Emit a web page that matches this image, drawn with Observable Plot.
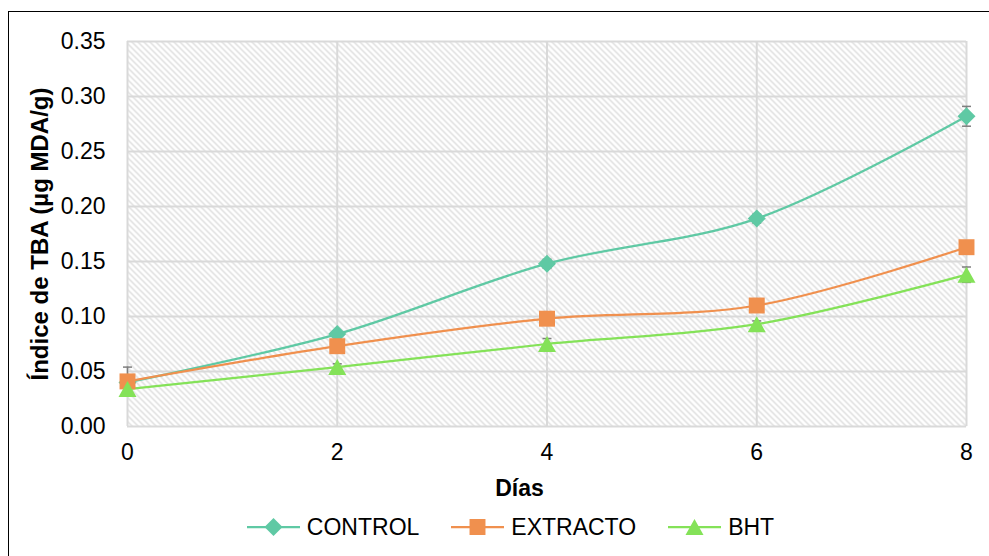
<!DOCTYPE html>
<html lang="es">
<head>
<meta charset="utf-8">
<script src="https://cdn.jsdelivr.net/npm/d3@7"></script>
<script src="https://cdn.jsdelivr.net/npm/@observablehq/plot@0.6"></script>
<style>
  html, body { margin: 0; padding: 0; background: #fff; }
  body { width: 989px; height: 556px; overflow: hidden; position: relative; font-family: "Liberation Sans", Arial, sans-serif; }
  #marco { position: absolute; left: 8px; top: 11px; width: 1200px; height: 900px; border: 1.5px solid #000; pointer-events: none; }
  #grafico { position: absolute; left: 0; top: 0; width: 989px; }
  .titulo-x { height: 36px; line-height: 36px; padding-left: 50px; text-align: center; font-weight: bold; font-size: 23px; color: #000; }
  .leyenda { height: 42px; padding-left: 32px; display: flex; justify-content: center; align-items: center; gap: 32px; font-size: 23px; color: #000; }
  .item { display: flex; align-items: center; gap: 7px; }
  .item svg { display: block; }
</style>
</head>
<body>
<div id="grafico"></div>
<div id="marco"></div>
<script>
// Días de almacenamiento
const dias = [0, 2, 4, 6, 8];

// Índice de TBA (µg MDA/g) por tratamiento
const control  = [0.040, 0.084, 0.148, 0.189, 0.282];
const extracto = [0.041, 0.073, 0.098, 0.110, 0.163];
const bht      = [0.034, 0.054, 0.075, 0.093, 0.138];

// Desviación estándar de cada medida
const controlErr  = [0.003, 0.003, 0.004, 0.004, 0.009];
const extractoErr = [0.013, 0.003, 0.003, 0.003, 0.004];
const bhtErr      = [0.003, 0.003, 0.005, 0.003, 0.007];

const yTicks = [0, 0.05, 0.10, 0.15, 0.20, 0.25, 0.30, 0.35];
const xTicks = [0, 2, 4, 6, 8];

// Triángulo centrado en su caja (ancho 18, alto 16)
const triangulo = {
  draw(context) {
    context.moveTo(0, -8);
    context.lineTo(9, 8);
    context.lineTo(-9, 8);
    context.closePath();
  }
};

const series = [
  {name: "CONTROL",  values: control,  err: controlErr,  color: "#5fc9a4", symbol: "diamond2", r: 8.1},
  {name: "EXTRACTO", values: extracto, err: extractoErr, color: "#f0904e", symbol: "square",   r: 9.0},
  {name: "BHT",      values: bht,      err: bhtErr,      color: "#84e258", symbol: triangulo,  r: 8}
];

const filas = series.flatMap(s => dias.map((d, i) => ({
  serie: s.name, dia: d, valor: s.values[i], err: s.err[i]
})));

// Símbolo de remate para las barras de error
const remate = {
  draw(context) { context.moveTo(-4.5, 0); context.lineTo(4.5, 0); }
};

const fuente = "Liberation Sans, Arial, sans-serif";

const plot = Plot.plot({
  width: 989,
  height: 470,
  marginLeft: 127,
  marginRight: 23,
  marginTop: 41,
  marginBottom: 44,
  style: {background: "transparent", fontFamily: fuente, fontSize: "23px", color: "#000"},
  x: {domain: [0, 8], ticks: xTicks, tickSize: 0, tickPadding: 17, label: null},
  y: {domain: [0, 0.35], ticks: yTicks, tickSize: 0, tickPadding: 22, tickFormat: d3.format(".2f"), label: null},
  marks: [
    Plot.frame({fill: "url(#trama)", stroke: "none"}),
    Plot.gridY(yTicks, {stroke: "#d9d9d9", strokeOpacity: 1, strokeWidth: 2}),
    Plot.gridX(xTicks, {stroke: "#d9d9d9", strokeOpacity: 1, strokeWidth: 2}),
    ...series.map(s => Plot.line(filas.filter(f => f.serie === s.name), {
      x: "dia", y: "valor", stroke: s.color, strokeWidth: 2.25, curve: "catmull-rom"
    })),
    Plot.ruleX(filas, {x: "dia", y1: f => f.valor - f.err, y2: f => f.valor + f.err, stroke: "#7f7f7f", strokeWidth: 1.5}),
    Plot.dot(filas, {x: "dia", y: f => f.valor + f.err, symbol: remate, fill: "none", stroke: "#7f7f7f", strokeWidth: 1.5}),
    Plot.dot(filas, {x: "dia", y: f => f.valor - f.err, symbol: remate, fill: "none", stroke: "#7f7f7f", strokeWidth: 1.5}),
    ...series.map(s => Plot.dot(filas.filter(f => f.serie === s.name), {
      x: "dia", y: "valor", symbol: s.symbol, r: s.r, fill: s.color, stroke: "none"
    })),
    Plot.text(["Índice de TBA (µg MDA/g)"], {
      frameAnchor: "left", rotate: -90, dx: -87, text: d => d,
      fontWeight: "bold", fontSize: 24, fill: "#000", textAnchor: "middle", lineAnchor: "middle"
    })
  ]
});

// Trama diagonal del área de trazado
const defs = d3.select(plot).insert("defs", ":first-child");
const patron = defs.append("pattern")
  .attr("id", "trama")
  .attr("patternUnits", "userSpaceOnUse")
  .attr("width", 6).attr("height", 6);
patron.append("rect").attr("width", 6).attr("height", 6).attr("fill", "#fff");
patron.append("path")
  .attr("d", "M-1,-1L7,7M-1,5L1,7M5,-1L7,1")
  .attr("stroke", "#dadada").attr("stroke-width", 1.3).attr("fill", "none");

const contenedor = document.getElementById("grafico");
contenedor.appendChild(plot);

const tituloX = document.createElement("div");
tituloX.className = "titulo-x";
tituloX.textContent = "Días";
contenedor.appendChild(tituloX);

// Leyenda: línea con el marcador de cada serie
const leyenda = document.createElement("div");
leyenda.className = "leyenda";
const simbolos = {diamond2: d3.symbolDiamond2, square: d3.symbolSquare};
for (const s of series) {
  const item = document.createElement("div");
  item.className = "item";
  const muestra = d3.create("svg").attr("width", 53).attr("height", 20);
  muestra.append("line").attr("x1", 0).attr("x2", 53).attr("y1", 10).attr("y2", 10)
    .attr("stroke", s.color).attr("stroke-width", 2.25);
  const tipo = typeof s.symbol === "string" ? simbolos[s.symbol] : s.symbol;
  muestra.append("path").attr("transform", "translate(26.5,10)")
    .attr("d", d3.symbol(tipo, Math.PI * s.r * s.r)()).attr("fill", s.color);
  item.appendChild(muestra.node());
  const etiqueta = document.createElement("span");
  etiqueta.textContent = s.name;
  item.appendChild(etiqueta);
  leyenda.appendChild(item);
}
contenedor.appendChild(leyenda);
</script>
</body>
</html>
